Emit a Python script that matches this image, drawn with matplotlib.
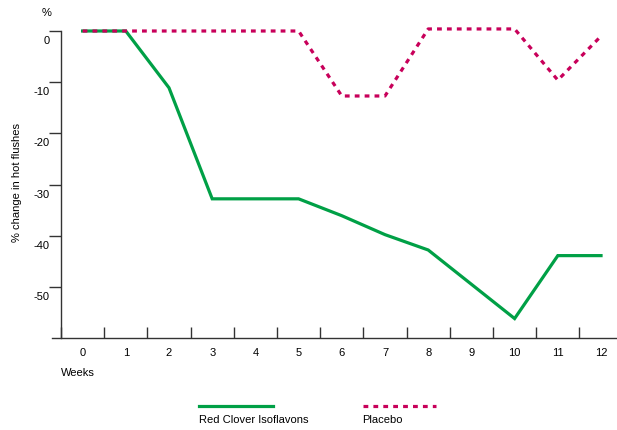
import matplotlib.pyplot as plt
from matplotlib.lines import Line2D
from matplotlib.transforms import ScaledTranslation

plt.rcParams['font.family'] = ['Liberation Sans', 'DejaVu Sans']
plt.rcParams['axes.unicode_minus'] = False

# Data
weeks = list(range(13))
clover_weeks = [0, 1, 2, 3, 4, 5, 6, 7, 8, 10, 11, 12]
clover_change = [0, 0, -11.1, -32.8, -32.8, -32.8, -36.1, -39.8, -42.8, -56.2, -43.9, -43.9]
placebo_weeks = [0, 1, 2, 3, 4, 5, 6, 7, 8, 9, 10, 11, 12]
placebo_change = [0, 0, 0, 0, 0, 0, -12.7, -12.7, 0.4, 0.4, 0.4, -9.6, -1.0]
y_ticks = [0, -10, -20, -30, -40, -50]

GREEN = '#00a046'
MAGENTA = '#c8005a'
FS = 8

fig = plt.figure(figsize=(6.17, 4.30), dpi=100)
ax = fig.add_axes([52 / 617, 92 / 430, 565 / 617, 307 / 430])

ax.plot(clover_weeks, clover_change, color=GREEN, lw=2.3, clip_on=False,
        solid_joinstyle='miter', zorder=3)
ax.plot(placebo_weeks, placebo_change, color=MAGENTA, lw=2.3, clip_on=False,
        linestyle=(0, (1.5, 1.6)), dash_capstyle='butt', zorder=4)

ax.set_xlim(-0.708, 12.37)
ax.set_ylim(-60, 0)

for side in ['top', 'right']:
    ax.spines[side].set_visible(False)
ax.spines['left'].set_position(('data', -0.5))
for side in ['left', 'bottom']:
    ax.spines[side].set_linewidth(1.0)
    ax.spines[side].set_color('#333333')

# x: ticks between weeks, labels at week centres
ax.set_xticks([w - 0.5 for w in weeks])
ax.set_xticklabels([])
ax.set_xticks(weeks, minor=True)
ax.set_xticklabels([str(w) for w in weeks], minor=True, fontsize=FS)
ax.tick_params(axis='x', which='major', direction='in', length=8, width=1, color='#333333')
ax.tick_params(axis='x', which='minor', length=0, pad=7)

# y ticks with labels sitting just below each tick
ax.set_yticks(y_ticks)
ax.set_yticklabels([str(v) for v in y_ticks], fontsize=FS)
ax.tick_params(axis='y', direction='out', length=9, width=1, color='#333333', pad=-1)
shift = ScaledTranslation(0, -9 / 100, fig.dpi_scale_trans)
for lab in ax.get_yticklabels():
    lab.set_transform(lab.get_transform() + shift)

fig.text(47 / 617, 1 - 13 / 430, '%', fontsize=FS, ha='center', va='center')
fig.text(17 / 617, 1 - 183 / 430, '% change in hot flushes', fontsize=FS,
         rotation=90, ha='center', va='center')
fig.text(61 / 617, 1 - 373 / 430, 'Weeks', fontsize=FS, ha='left', va='center')

# legend keys below the chart
fig.add_artist(Line2D([199 / 617, 273 / 617], [1 - 406 / 430] * 2, color=GREEN, lw=2.3))
fig.add_artist(Line2D([363 / 617, 436 / 617], [1 - 406 / 430] * 2, color=MAGENTA, lw=2.3,
                      linestyle=(0, (1.5, 1.6)), dash_capstyle='butt'))
fig.text(199 / 617, 1 - 420 / 430, 'Red Clover Isoflavons', fontsize=FS, ha='left', va='center')
fig.text(362 / 617, 1 - 420 / 430, 'Placebo', fontsize=FS, ha='left', va='center')

fig.savefig('out.png', dpi=100)
